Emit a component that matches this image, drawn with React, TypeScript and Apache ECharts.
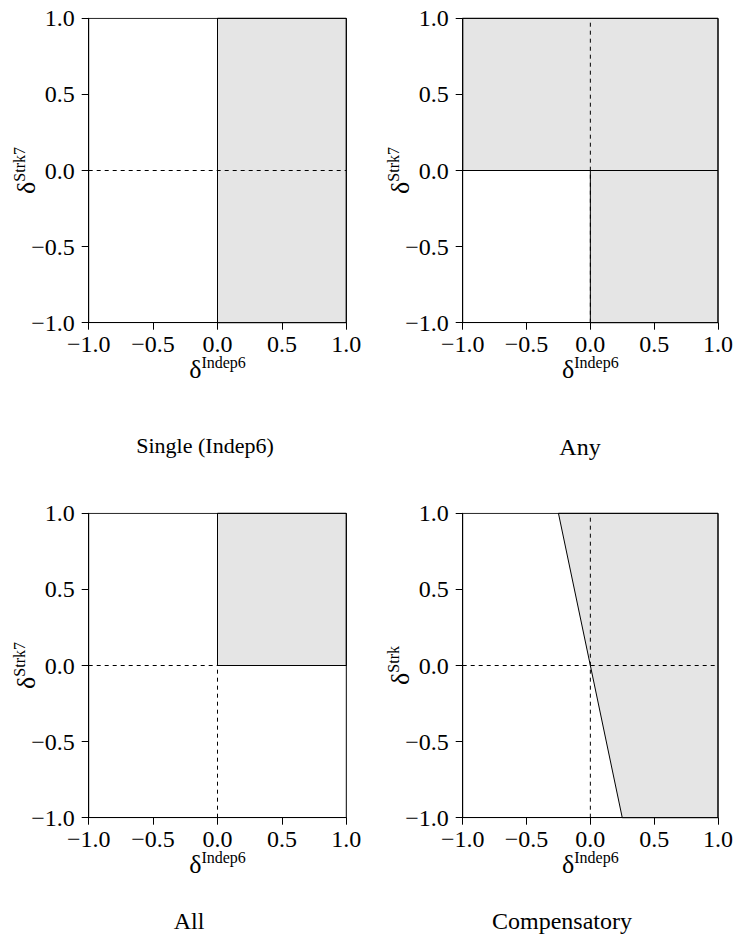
import React, { useEffect, useRef } from 'react';
import * as echarts from 'echarts';

// ---- data ----
const AXIS_MIN = -1;
const AXIS_MAX = 1;
const TICK_STEP = 0.5;
const TICK_VALUES = [-1, -0.5, 0, 0.5, 1];

const PANEL_TITLES = ['Single (Indep6)', 'Any', 'All', 'Compensatory'];
const X_NAMES = ['Indep6', 'Indep6', 'Indep6', 'Indep6'];
const Y_NAMES = ['Strk7', 'Strk7', 'Strk7', 'Strk'];

// shaded decision regions (polygons in data coordinates)
const SINGLE_REGION = [[[0, -1], [1, -1], [1, 1], [0, 1]]];
const ANY_REGION = [
  [[-1, 0], [1, 0], [1, 1], [-1, 1]],
  [[0, -1], [1, -1], [1, 0], [0, 0]],
];
const ALL_REGION = [[[0, 0], [1, 0], [1, 1], [0, 1]]];
const COMP_REGION = [[[-0.25, 1], [1, 1], [1, -1], [0.25, -1]]];
const REGIONS = [SINGLE_REGION, ANY_REGION, ALL_REGION, COMP_REGION];

// dashed reference lines
const H_REF = [[-1, 0], [1, 0]];
const V_REF = [[0, -1], [0, 1]];
// plot frame
const FRAME = [[-1, -1], [1, -1], [1, 1], [-1, 1], [-1, -1]];

// ---- layout ----
const FONT = 'Liberation Serif';
const GRID_W = 257.6;
const GRID_H = 304.4;
const GRID_POS = [
  { left: 88.7, top: 18.3 },
  { left: 462.7, top: 18.3 },
  { left: 88.7, top: 513.3 },
  { left: 462.7, top: 513.3 },
];
const TITLE_POS = [
  { x: 205, y: 445, size: 22 },
  { x: 580, y: 447, size: 24 },
  { x: 189, y: 921, size: 24 },
  { x: 562, y: 921, size: 24 },
];

const fmt = (v: number) => {
  const r = Math.round(v * 10) / 10;
  if (!TICK_VALUES.some((t) => Math.abs(t - r) < 1e-9)) return '';
  return (r < 0 ? '\u2212' : '') + Math.abs(r).toFixed(1);
};

const nameRich = {
  d: { fontFamily: FONT, fontSize: 26, color: '#000', verticalAlign: 'bottom', lineHeight: 28 },
  s: { fontFamily: FONT, fontSize: 16, color: '#000', verticalAlign: 'bottom', lineHeight: 16, padding: [0, 0, 12, 0] },
};

const labelStyle = (margin: number) => ({
  show: true,
  formatter: fmt,
  fontFamily: FONT,
  fontSize: 24,
  color: '#000',
  margin,
});

export default function App() {
  const ref = useRef<HTMLDivElement>(null);
  useEffect(() => {
    document.body.style.margin = '0';
    if (!ref.current) return;
    const chart = echarts.init(ref.current, undefined, { renderer: 'svg' });

    const grid = GRID_POS.map((g) => ({
      left: g.left,
      top: g.top,
      width: GRID_W,
      height: GRID_H,
      containLabel: false,
    }));

    const axisBase = {
      type: 'value',
      min: AXIS_MIN,
      max: AXIS_MAX,
      interval: TICK_STEP,
      splitLine: { show: false },
      axisLine: { show: true, onZero: false, lineStyle: { color: '#000', width: 1 } },
      axisTick: { show: true, length: 7, inside: false, lineStyle: { color: '#000', width: 1 } },
    };

    const xAxis = GRID_POS.map((_, i) => ({
      ...axisBase,
      gridIndex: i,
      position: 'bottom',
      axisLabel: labelStyle(9),
      name: `{d|δ}{s|${X_NAMES[i]}}`,
      nameLocation: 'middle',
      nameGap: 32,
      nameMoveOverlap: false,
      nameTextStyle: { rich: nameRich, verticalAlign: 'top', fontFamily: FONT },
    }));

    const yAxis = GRID_POS.map((_, i) => ({
      ...axisBase,
      gridIndex: i,
      position: 'left',
      axisLabel: labelStyle(14),
      name: `{d|δ}{s|${Y_NAMES[i]}}`,
      nameLocation: 'middle',
      nameRotate: 90,
      nameGap: 49,
      nameMoveOverlap: false,
      nameTextStyle: { rich: nameRich, fontFamily: FONT, verticalAlign: 'bottom' },
    }));

    const series: any[] = [];
    REGIONS.forEach((polys, i) => {
      series.push({
        type: 'custom',
        xAxisIndex: i,
        yAxisIndex: i,
        silent: true,
        z: 1,
        data: polys.map((p) => p[0]),
        renderItem: (params: any, api: any) => {
          const poly = polys[params.dataIndex];
          return {
            type: 'polygon',
            shape: { points: poly.map((pt) => api.coord(pt)) },
            style: { fill: '#e5e5e5', stroke: '#000', lineWidth: 1 },
          };
        },
      });
      [H_REF, V_REF].forEach((ln) => {
        series.push({
          type: 'line',
          xAxisIndex: i,
          yAxisIndex: i,
          silent: true,
          z: 2,
          symbol: 'none',
          data: ln,
          lineStyle: { color: '#000', width: 1, type: [4, 4] },
        });
      });
      series.push({
        type: 'line',
        xAxisIndex: i,
        yAxisIndex: i,
        silent: true,
        z: 3,
        symbol: 'none',
        data: FRAME,
        lineStyle: { color: '#000', width: 1 },
      });
    });

    const graphic = PANEL_TITLES.map((t, i) => ({
      type: 'text',
      x: TITLE_POS[i].x,
      y: TITLE_POS[i].y,
      silent: true,
      style: {
        text: t,
        fontFamily: FONT,
        fontSize: TITLE_POS[i].size,
        fill: '#000',
        textAlign: 'center',
        textVerticalAlign: 'middle',
      },
    }));

    chart.setOption({
      animation: false,
      backgroundColor: '#fff',
      textStyle: { fontFamily: FONT },
      grid,
      xAxis,
      yAxis,
      series,
      graphic,
    });
    return () => chart.dispose();
  }, []);
  return <div ref={ref} style={{ width: 736, height: 942 }} />;
}
